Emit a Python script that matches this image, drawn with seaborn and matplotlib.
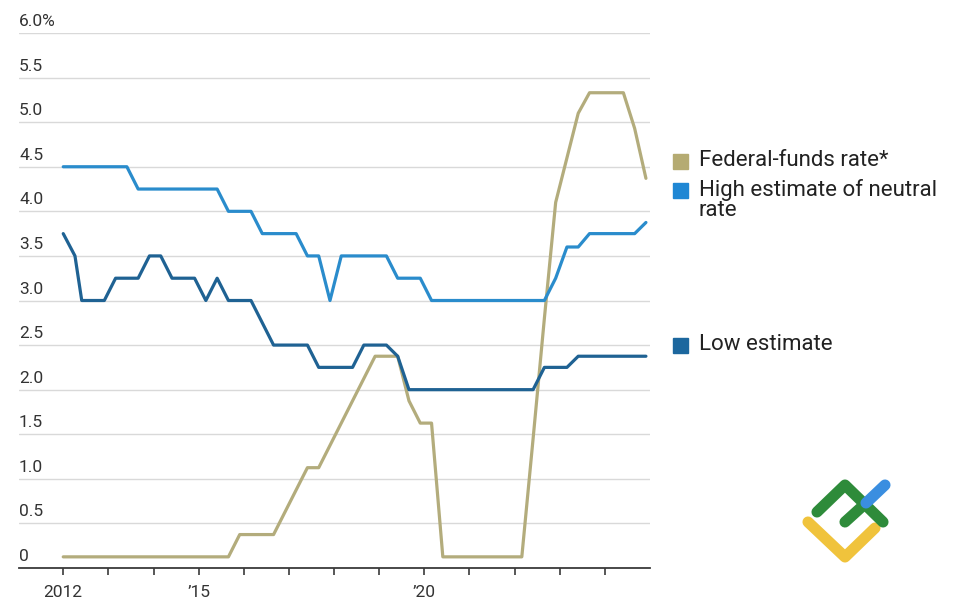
import pandas as pd
import seaborn as sns
import matplotlib.pyplot as plt
from matplotlib.transforms import offset_copy
from matplotlib.patches import Rectangle
from matplotlib.lines import Line2D

# Quarterly projection dates (decimal years)
dates = [2012.00, 2012.26, 2012.41, 2012.66, 2012.91,
         2013.16, 2013.41, 2013.66, 2013.91,
         2014.16, 2014.41, 2014.66, 2014.91,
         2015.16, 2015.41, 2015.66, 2015.91,
         2016.16, 2016.41, 2016.66, 2016.91,
         2017.16, 2017.41, 2017.66, 2017.91,
         2018.16, 2018.41, 2018.66, 2018.91,
         2019.16, 2019.41, 2019.66, 2019.91,
         2020.16, 2020.41, 2020.66, 2020.91,
         2021.16, 2021.41, 2021.66, 2021.91,
         2022.16, 2022.41, 2022.66, 2022.91,
         2023.16, 2023.41, 2023.66, 2023.91,
         2024.16, 2024.41, 2024.66, 2024.91]

fed_funds = [0.125, 0.125, 0.125, 0.125, 0.125,
             0.125, 0.125, 0.125, 0.125,
             0.125, 0.125, 0.125, 0.125,
             0.125, 0.125, 0.125, 0.375,
             0.375, 0.375, 0.375, 0.625,
             0.875, 1.125, 1.125, 1.375,
             1.625, 1.875, 2.125, 2.375,
             2.375, 2.375, 1.875, 1.625,
             1.625, 0.125, 0.125, 0.125,
             0.125, 0.125, 0.125, 0.125,
             0.125, 1.45, 2.8, 4.1,
             4.6, 5.1, 5.33, 5.33,
             5.33, 5.33, 4.93, 4.37]

high_est = [4.5, 4.5, 4.5, 4.5, 4.5,
            4.5, 4.5, 4.25, 4.25,
            4.25, 4.25, 4.25, 4.25,
            4.25, 4.25, 4.0, 4.0,
            4.0, 3.75, 3.75, 3.75,
            3.75, 3.5, 3.5, 3.0,
            3.5, 3.5, 3.5, 3.5,
            3.5, 3.25, 3.25, 3.25,
            3.0, 3.0, 3.0, 3.0,
            3.0, 3.0, 3.0, 3.0,
            3.0, 3.0, 3.0, 3.25,
            3.6, 3.6, 3.75, 3.75,
            3.75, 3.75, 3.75, 3.875]

low_est = [3.75, 3.5, 3.0, 3.0, 3.0,
           3.25, 3.25, 3.25, 3.5,
           3.5, 3.25, 3.25, 3.25,
           3.0, 3.25, 3.0, 3.0,
           3.0, 2.75, 2.5, 2.5,
           2.5, 2.5, 2.25, 2.25,
           2.25, 2.25, 2.5, 2.5,
           2.5, 2.375, 2.0, 2.0,
           2.0, 2.0, 2.0, 2.0,
           2.0, 2.0, 2.0, 2.0,
           2.0, 2.0, 2.25, 2.25,
           2.25, 2.375, 2.375, 2.375,
           2.375, 2.375, 2.375, 2.375]

series_names = ["Federal-funds rate*", "High estimate of neutral rate", "Low estimate"]
line_colors = ["#b3ac7c", "#2a8ccc", "#1f6293"]
key_colors = ["#b5ab72", "#1f87d4", "#1c679e"]

y_ticks = [0, 0.5, 1.0, 1.5, 2.0, 2.5, 3.0, 3.5, 4.0, 4.5, 5.0, 5.5, 6.0]
y_labels = ["0", "0.5", "1.0", "1.5", "2.0", "2.5", "3.0", "3.5", "4.0", "4.5", "5.0", "5.5", "6.0%"]
x_label_years = [2012, 2015, 2020]
x_labels = ["2012", "\u201915", "\u201920"]

# Long-form table for seaborn
df = pd.concat([
    pd.DataFrame({"date": dates, "rate": fed_funds, "series": series_names[0]}),
    pd.DataFrame({"date": dates, "rate": high_est, "series": series_names[1]}),
    pd.DataFrame({"date": dates, "rate": low_est, "series": series_names[2]}),
])

sns.set_theme(style="white")
plt.rcParams["font.family"] = ["Roboto", "DejaVu Sans"]

fig = plt.figure(figsize=(9.65, 6.06), dpi=100)
ax = fig.add_axes([19 / 965, 38 / 606, 631 / 965, 535 / 606])

sns.lineplot(data=df, x="date", y="rate", hue="series", hue_order=series_names,
             palette=line_colors, linewidth=2.3, legend=False, ax=ax)

ax.set_xlim(2011.02, 2025.0)
ax.set_ylim(0, 6.0)
ax.set_xlabel("")
ax.set_ylabel("")

# grid
ax.set_yticks(y_ticks)
ax.set_yticklabels([])
ax.tick_params(axis="y", length=0)
ax.grid(axis="y", color="#d9d9d9", linewidth=1.0)
ax.grid(axis="x", visible=False)
ax.set_axisbelow(True)

for side in ["top", "right", "left"]:
    ax.spines[side].set_visible(False)
ax.spines["bottom"].set_color("#3a3a3a")
ax.spines["bottom"].set_linewidth(1.3)
ax.spines["bottom"].set_zorder(5)

# y labels sit above their gridlines
lab_trans = offset_copy(ax.get_yaxis_transform(), fig=fig, x=0, y=4, units="dots")
for v, lbl in zip(y_ticks, y_labels):
    ax.text(0, v, lbl, transform=lab_trans, ha="left", va="bottom",
            fontsize=12.5, color="#333333")

# x ticks each year, labels on a few
ax.set_xticks(range(2012, 2025))
ax.set_xticklabels([x_labels[x_label_years.index(y)] if y in x_label_years else ""
                    for y in range(2012, 2025)])
ax.tick_params(axis="x", direction="out", length=5, width=1.2, color="#3a3a3a",
               pad=7, labelsize=12.5, labelcolor="#333333", bottom=True)

# custom key on the right
key_items = [
    (series_names[0], ["Federal-funds rate*"], 161),
    (series_names[1], ["High estimate of neutral", "rate"], 190),
    (series_names[2], ["Low estimate"], 345),
]
for (name, lines, ypx), kc in zip(key_items, key_colors):
    fig.patches.append(Rectangle((673 / 965, 1 - (ypx + 8) / 606), 15 / 965, 15 / 606,
                                 transform=fig.transFigure, color=kc))
    for i, txt in enumerate(lines):
        fig.text(699 / 965, 1 - (ypx + 20 * i) / 606, txt, ha="left", va="center",
                 fontsize=16, color="#222222")

# watermark logo, bottom right
logo = [
    ([808, 845, 875], [522, 557, 528], "#f0c33c"),
    ([817, 845, 883], [512, 485, 522], "#2e8b3a"),
    ([845, 866], [522, 503], "#2e8b3a"),
    ([866, 885], [503, 485], "#3a8ee0"),
]
for xs, ys, c in logo:
    fig.add_artist(Line2D([x / 965 for x in xs], [1 - y / 606 for y in ys],
                          transform=fig.transFigure, color=c, linewidth=8,
                          solid_capstyle="round", solid_joinstyle="round"))

fig.savefig("out.png", dpi=100)
